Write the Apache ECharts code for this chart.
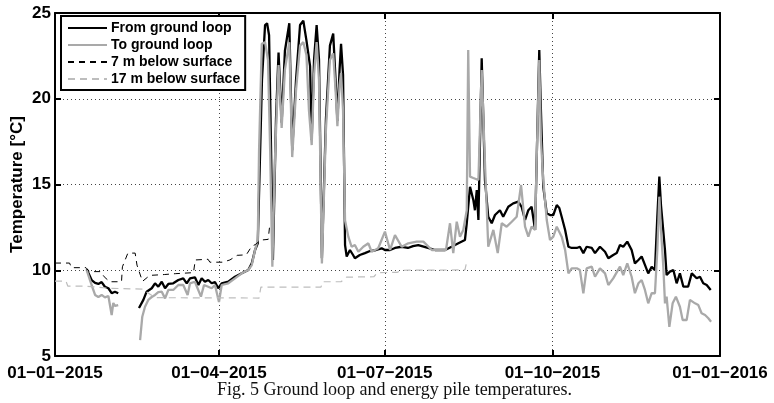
<!DOCTYPE html>
<html>
<head>
<meta charset="utf-8">
<script src="https://cdn.jsdelivr.net/npm/echarts@6/dist/echarts.min.js"></script>
<style>
html,body{margin:0;padding:0;background:#fff;}
#chart{width:774px;height:403px;}
</style>
</head>
<body>
<div id="chart"></div>
<script>
// X ticks (day of year 2015) and labels
const xTickDays = [0, 90, 181, 273, 365];
const xTickLabels = ['01\u221201\u22122015', '01\u221204\u22122015', '01\u221207\u22122015', '01\u221210\u22122015', '01\u221201\u22122016'];

// From ground loop (black)
const fromDays = [17.4,20.1,22.0,23.8,25.6,27.4,29.3,31.1,32.9,34.7,40,
46.1,48.5,50.3,53.1,54.9,56.7,58.6,60.4,62.2,64.9,67.7,70.4,72.3,74.1,76.8,78.7,80.5,82.3,84.1,86.0,87.8,89.6,91.5,95.1,98.8,102.5,106.1,108.0,109.8,111.3,
113.6,115.3,116.4,117.5,118.6,119.6,121.3,122.7,124.4,126.2,128.6,130.2,132.3,134.5,136.3,138.0,140.0,140.9,142.2,143.6,144.9,146.5,148.7,150.9,152.7,154.0,155.0,156.2,157.0,158.1,159.2,
160.1,161.9,163.6,164.6,167.3,170.1,172.9,176.2,179.3,181.1,183.9,186.6,190.3,193.7,196.5,199.4,204.7,208.6,214.1,217.7,221.4,225.0,
226.0,227.8,229.6,230.5,231.5,232.4,234.2,236.0,237.8,239.7,241.5,244.2,246.0,248.8,251.5,254.3,256.1,258.0,259.8,261.6,263.5,264.5,265.8,266.7,268.0,269.9,
271.7,273.5,275.4,276.8,278.1,280.0,281.8,283.6,286.4,288.1,290.0,291.8,294.6,296.4,299.1,301.9,303.7,306.4,308.3,310.1,311.9,314.1,316.5,318.3,320.2,322.0,323.8,325.6,327.5,329.3,
330.6,331.7,332.6,333.5,334.8,335.7,337.5,339.4,341.2,343.0,344.9,347.5,349.5,352.2,354.0,355.8,357.7,359.9];
const fromTemps = [10.06,9.43,9.26,9.20,9.31,9.04,8.95,8.66,8.75,8.66,null,
7.80,8.27,8.75,8.95,9.24,9.04,9.33,8.95,9.20,9.24,9.43,9.53,9.24,9.53,9.59,9.14,9.53,9.33,9.43,9.24,9.31,8.95,9.24,9.33,9.62,9.82,10.01,10.40,11.18,11.57,
21.1,24.3,24.4,23.7,17.0,10.6,18.8,22.7,18.6,22.8,24.4,17.0,21.1,24.3,24.55,23.4,21.9,17.6,22.3,24.3,22.3,10.7,18.8,23.1,23.8,21.1,18.7,21.7,23.2,21.4,11.47,
10.8,11.18,10.89,10.70,10.89,11.0,11.12,11.18,11.28,11.18,11.18,11.3,11.37,11.3,11.41,11.47,11.3,11.18,11.18,11.37,11.57,11.76,
12.74,14.87,14.1,13.5,14.68,12.93,22.36,15.26,13.12,12.74,13.22,13.5,13.12,13.7,13.9,14.0,13.7,12.93,13.5,13.7,12.35,17.0,22.84,19.34,14.87,13.32,
13.22,13.22,13.8,13.63,13.12,12.35,11.37,11.3,11.3,11.37,11.0,11.37,11.3,11.0,11.37,11.08,10.70,10.89,11.0,11.47,11.37,11.67,11.18,10.4,10.6,10.8,10.31,9.82,10.2,10.01,
13.12,15.46,13.8,12.74,11.18,9.72,9.92,10.01,9.24,9.82,9.04,9.04,9.82,9.53,9.62,9.24,9.14,8.85];

// To ground loop (grey)
const toDays = [17.4,19.2,20.1,22.0,23.8,25.6,27.4,29.3,31.1,32.0,32.9,34.7,40,
46.7,47.9,49.4,51.2,53.1,54.9,56.7,58.6,60.4,62.2,64.9,67.7,70.4,72.8,74.1,76.8,80.1,81.8,84.1,86.0,87.8,90.0,91.5,95.1,98.8,102.5,106.1,108.0,109.8,111.3,
112.0,113.5,115.3,116.9,118.1,119.3,120.7,122.7,124.4,126.2,128.6,130.2,132.3,134.5,136.3,138.0,139.4,140.9,142.2,143.6,144.9,146.5,148.7,150.9,152.7,154.0,155.0,156.2,157.0,158.1,159.2,
161.0,162.8,164.6,166.5,169.2,172.0,173.8,177.4,181.1,183.9,186.6,190.3,193.9,198.5,202.2,206.8,211.3,214.6,216.8,218.6,220.5,222.3,224.1,
226.0,226.8,227.8,229.6,232.4,234.2,236.0,237.8,240.6,243.0,245.2,247.9,250.7,253.4,255.8,258.0,259.8,261.6,263.5,264.5,265.8,266.7,268.0,269.9,
271.7,273.5,275.4,278.1,280.0,281.8,283.6,286.4,288.1,290.0,291.8,294.6,296.4,299.1,301.9,303.7,306.4,310.1,311.9,314.1,316.5,318.3,320.2,322.0,323.8,325.6,327.5,329.3,
330.6,331.7,332.6,333.9,334.8,335.7,337.2,339.0,340.8,343.0,344.5,346.7,348.5,351.3,353.1,354.9,356.8,358.6,360.1];
const toTemps = [10.0,9.43,9.14,8.56,8.44,8.56,8.42,8.50,7.39,8.09,7.92,7.97,null,
5.93,7.29,7.87,8.27,8.44,8.56,8.73,8.75,8.36,8.85,8.85,9.14,9.14,8.56,9.24,9.33,8.46,9.14,9.04,8.95,9.14,8.15,9.14,9.24,9.53,9.82,10.01,10.30,11.18,11.76,
17.0,23.2,23.3,22.26,17.0,10.2,16.4,21.97,18.3,21.7,23.3,16.6,20.5,23.1,23.3,22.55,19.3,17.3,21.4,23.3,21.1,10.4,18.2,22.26,22.65,20.5,18.4,20.8,21.5,19.3,12.9,
11.96,11.37,11.47,11.08,11.37,11.57,11.08,11.28,12.25,11.18,12.05,11.37,11.57,11.67,11.67,11.18,11.18,11.18,12.74,11.0,12.83,11.96,12.35,
13.5,22.84,15.46,15.38,15.26,21.68,16.24,11.37,12.35,11.0,12.74,12.54,12.83,13.12,14.97,12.54,11.96,12.54,12.35,17.0,22.26,17.6,15.26,12.93,
11.76,11.96,12.54,11.96,11.18,9.82,10.11,10.11,10.01,8.66,10.11,10.21,9.62,10.11,9.82,9.14,9.53,10.21,9.72,10.4,9.62,8.66,9.24,9.43,8.85,8.07,8.66,8.66,
11.18,14.29,12.35,10.2,8.07,8.46,6.70,8.07,8.46,7.87,7.10,7.10,8.27,8.07,7.97,7.49,7.39,7.20,7.0];

// 7 m below surface (black dashed)
const depth7Days = [0,8,9,17,19,25,27,30,36.5,37,40,44,45,48,52,60,66,76,77,84,85,92,96,100,105,108,110,113,117,118];
const depth7Temps = [10.42,10.42,10.15,10.15,9.92,9.92,9.62,9.33,9.33,10.2,11.0,11.0,10.3,9.35,9.7,9.75,9.8,9.86,10.6,10.64,10.47,10.47,10.6,10.87,10.9,11.4,11.5,11.76,11.8,12.75];

// 17 m below surface (light grey dashed)
const depth17Days = [0,6,7,16,30,48,55,112,113,146,147,157,160,175,177,188,190,225,226];
const depth17Temps = [9.37,9.37,9.08,9.08,8.95,8.9,8.4,8.38,9.02,9.02,9.33,9.33,9.6,9.62,9.86,9.88,10.0,10.02,10.5];

const yMin = 5, yMax = 25, yStep = 5;

function pairs(days, vals){ return days.map((d,i)=>[d, vals[i]]); }

const chart = echarts.init(document.getElementById('chart'), null, {renderer:'canvas'});
const font = '"Liberation Sans", Arial, Helvetica, sans-serif';
const gridLine = {show:true, lineStyle:{color:'#444', width:1, type:[1,3]}};

const option = {
  animation:false,
  backgroundColor:'#fff',
  textStyle:{fontFamily:font},
  grid:{left:55, right:54, top:13, bottom:47, containLabel:false, outerBoundsMode:'none'},
  legend:{
    orient:'vertical', left:61, top:16,
    padding:[5,5,4,6], itemGap:3, itemWidth:39, itemHeight:14,
    borderColor:'#000', borderWidth:2, backgroundColor:'#fff', borderRadius:0,
    itemStyle:{opacity:0, borderWidth:0},
    textStyle:{fontFamily:font, fontWeight:'bold', fontSize:14, color:'#000', padding:[0,0,0,-1]},
    data:['From ground loop','To ground loop','7 m below surface','17 m below surface']
  },
  graphic:[{
    type:'text', left:217, top:381,
    style:{text:'Fig. 5 Ground loop and energy pile temperatures.', font:'18px "Liberation Serif", "Times New Roman", serif', fill:'#111'}
  }],
  xAxis:[{
    type:'value', min:0, max:365, position:'bottom',
    axisLine:{show:true, onZero:false, lineStyle:{color:'#000', width:2}},
    axisTick:{show:true, inside:true, length:6, customValues:xTickDays, lineStyle:{color:'#000', width:2}},
    axisLabel:{customValues:xTickDays, margin:9, color:'#000', fontSize:17, fontWeight:'bold', fontFamily:font,
      formatter:function(v){ const i = xTickDays.indexOf(Math.round(v)); return i>=0 ? xTickLabels[i] : ''; }},
    splitLine:gridLine
  },{
    type:'value', min:0, max:365, position:'top',
    axisLine:{show:true, onZero:false, lineStyle:{color:'#000', width:2}},
    axisTick:{show:true, inside:true, length:6, customValues:xTickDays, lineStyle:{color:'#000', width:2}},
    axisLabel:{show:false}, splitLine:{show:false}
  }],
  yAxis:[{
    type:'value', min:yMin, max:yMax, interval:yStep, position:'left',
    name:'Temperature [\u00B0C]', nameLocation:'middle', nameGap:29, nameRotate:90, nameMoveOverlap:false,
    nameTextStyle:{color:'#000', fontSize:17, fontWeight:'bold', fontFamily:font},
    axisLine:{show:true, onZero:false, lineStyle:{color:'#000', width:2}},
    axisTick:{show:true, inside:true, length:6, lineStyle:{color:'#000', width:2}},
    axisLabel:{margin:4, color:'#000', fontSize:17, fontWeight:'bold', fontFamily:font},
    splitLine:gridLine
  },{
    type:'value', min:yMin, max:yMax, interval:yStep, position:'right',
    axisLine:{show:true, onZero:false, lineStyle:{color:'#000', width:2}},
    axisTick:{show:true, inside:true, length:6, lineStyle:{color:'#000', width:2}},
    axisLabel:{show:false}, splitLine:{show:false}
  }],
  series:[
    {name:'From ground loop', type:'line', data:pairs(fromDays, fromTemps), showSymbol:false, symbol:'none',
      lineStyle:{color:'#000', width:2.3}, itemStyle:{color:'#000'}, connectNulls:false, z:2},
    {name:'To ground loop', type:'line', data:pairs(toDays, toTemps), showSymbol:false, symbol:'none',
      lineStyle:{color:'#a9a9a9', width:2.3}, itemStyle:{color:'#a9a9a9'}, connectNulls:false, z:3},
    {name:'7 m below surface', type:'line', data:pairs(depth7Days, depth7Temps), showSymbol:false, symbol:'none',
      lineStyle:{color:'#000', width:1, type:[6,5]}, itemStyle:{color:'#000'}, z:4},
    {name:'17 m below surface', type:'line', data:pairs(depth17Days, depth17Temps), showSymbol:false, symbol:'none',
      lineStyle:{color:'#bdbdbd', width:1.2, type:[7,5]}, itemStyle:{color:'#bdbdbd'}, z:4}
  ]
};
chart.setOption(option);
</script>
</body>
</html>
